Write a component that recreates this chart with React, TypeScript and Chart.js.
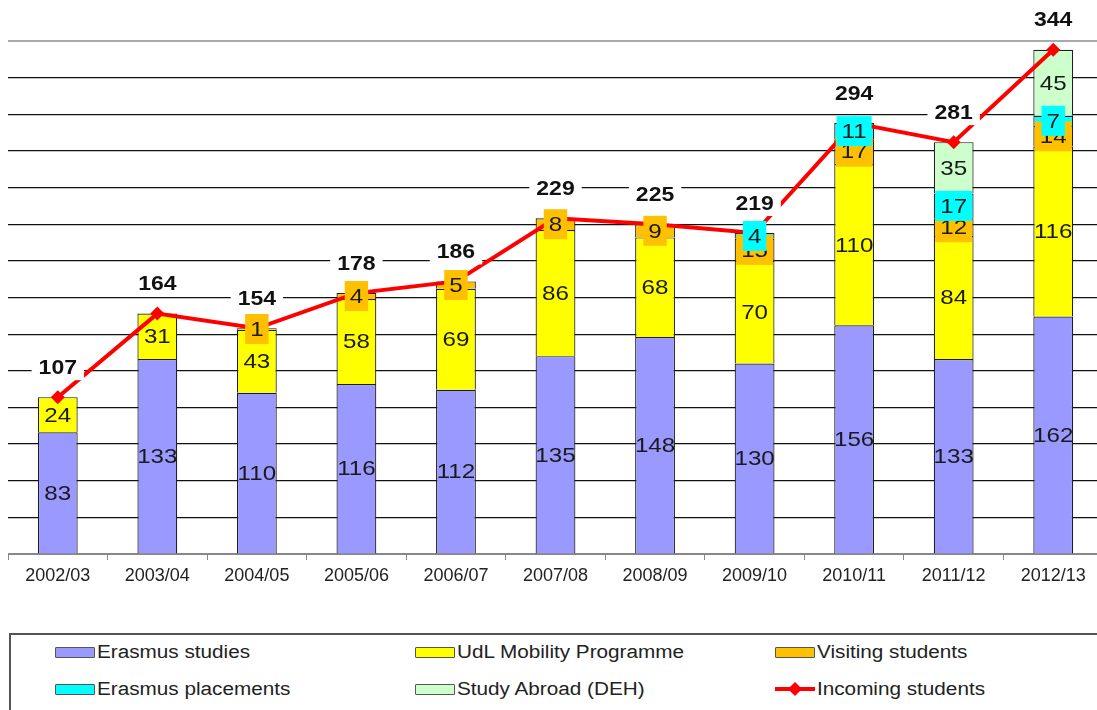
import React, { useEffect, useRef } from "react";
import { Chart, registerables } from "chart.js";

Chart.register(...registerables);

const categories = ["2002/03", "2003/04", "2004/05", "2005/06", "2006/07", "2007/08", "2008/09", "2009/10", "2010/11", "2011/12", "2012/13"];
const erasmusStudies = [83, 133, 110, 116, 112, 135, 148, 130, 156, 133, 162];
const udlMobility = [24, 31, 43, 58, 69, 86, 68, 70, 110, 84, 116];
const visitingStudents = [null, null, 1, 4, 5, 8, 9, 15, 17, 12, 14];
const erasmusPlacements = [null, null, null, null, null, null, null, 4, 11, 17, 7];
const studyAbroad = [null, null, null, null, null, null, null, null, null, 35, 45];
const incomingStudents = [107, 164, 154, 178, 186, 229, 225, 219, 294, 281, 344];
const yMax = 350;
const yStep = 25;

const FONT = '"Liberation Sans", Arial, sans-serif';
const SX = 1.15;

const barSeries = [
  { label: "Erasmus studies", data: erasmusStudies, color: "#9999FF", boxed: false },
  { label: "UdL Mobility Programme", data: udlMobility, color: "#FFFF00", boxed: false },
  { label: "Visiting students", data: visitingStudents, color: "#FFC000", boxed: true },
  { label: "Erasmus placements", data: erasmusPlacements, color: "#00FFFF", boxed: true },
  { label: "Study Abroad (DEH)", data: studyAbroad, color: "#CCFFCC", boxed: false },
];

function drawStretched(ctx: CanvasRenderingContext2D, text: string, x: number, y: number, font: string, color: string) {
  ctx.save();
  ctx.translate(x, y);
  ctx.scale(SX, 1);
  ctx.font = font;
  ctx.fillStyle = color;
  ctx.textAlign = "center";
  ctx.textBaseline = "middle";
  ctx.fillText(text, 0, 0);
  ctx.restore();
}

const labelPlugin = {
  id: "segmentLabels",
  afterDatasetsDraw(chart: any) {
    const ctx: CanvasRenderingContext2D = chart.ctx;
    const segFont = `21px ${FONT}`;
    barSeries.forEach((s, di) => {
      const meta = chart.getDatasetMeta(di);
      meta.data.forEach((el: any, i: number) => {
        const v = s.data[i];
        if (v === null || v === undefined) return;
        const cy = (el.y + el.base) / 2;
        const txt = String(v);
        if (s.boxed) {
          ctx.save();
          ctx.font = segFont;
          const w = ctx.measureText(txt).width * SX + 10;
          ctx.fillStyle = s.color;
          ctx.fillRect(el.x - w / 2, cy - 15, w, 30);
          ctx.restore();
        }
        drawStretched(ctx, txt, el.x, cy + 1, segFont, "#1a1a1a");
      });
    });
    const lineMeta = chart.getDatasetMeta(barSeries.length);
    const totFont = `bold 20px ${FONT}`;
    lineMeta.data.forEach((el: any, i: number) => {
      const txt = String(incomingStudents[i]);
      const y = el.y - 30;
      ctx.save();
      ctx.font = totFont;
      const w = ctx.measureText(txt).width * SX + 14;
      ctx.fillStyle = "#ffffff";
      ctx.fillRect(el.x - w / 2, y - 13, w, 26);
      ctx.restore();
      drawStretched(ctx, txt, el.x, y + 1, totFont, "#111111");
    });
  },
};

function ChartCanvas() {
  const ref = useRef<HTMLCanvasElement | null>(null);
  useEffect(() => {
    if (!ref.current) return;
    const datasets: any[] = barSeries.map((s) => ({
      type: "bar",
      label: s.label,
      data: s.data,
      backgroundColor: s.color,
      borderColor: "#1f1f1f",
      borderWidth: 1.2,
      stack: "bars",
      order: 1,
      barPercentage: 0.4,
      categoryPercentage: 1,
    }));
    datasets.push({
      type: "line",
      label: "Incoming students",
      data: incomingStudents,
      borderColor: "#FF0000",
      backgroundColor: "#FF0000",
      borderWidth: 4,
      pointStyle: "rectRot",
      pointRadius: 7,
      pointBorderWidth: 0,
      stack: "line",
      order: 0,
      tension: 0,
    });
    const chart = new Chart(ref.current, {
      type: "bar",
      data: { labels: categories, datasets },
      options: {
        responsive: false,
        maintainAspectRatio: false,
        animation: false,
        layout: { padding: { top: 41, left: 8, right: 2, bottom: 0 } },
        plugins: { legend: { display: false }, tooltip: { enabled: false } },
        scales: {
          x: {
            stacked: true,
            grid: { display: true, drawOnChartArea: false, drawTicks: true, tickLength: 6, color: "#888888", offset: true },
            border: { display: true, color: "#888888", width: 1 },
            ticks: { font: { family: FONT, size: 18 }, color: "#222222", padding: 5, maxRotation: 0 },
            afterFit: (s: any) => { s.height = 46; },
          },
          y: {
            stacked: true,
            min: 0,
            max: yMax,
            ticks: { stepSize: yStep, display: false },
            grid: {
              drawTicks: false,
              color: (c: any) => (c.tick && c.tick.value === yMax ? "#aaaaaa" : c.tick && c.tick.value === 0 ? "#888888" : "#111111"),
              lineWidth: (c: any) => (c.tick && c.tick.value === yMax ? 2 : 1.2),
            },
            border: { display: false },
            afterFit: (s: any) => { s.width = 0; },
          },
        },
      } as any,
      plugins: [labelPlugin],
    });
    return () => chart.destroy();
  }, []);
  return <canvas ref={ref} width={1110} height={600} style={{ position: "absolute", left: 0, top: 0 }} />;
}

const legendItems = [
  { label: "Erasmus studies", color: "#9999FF", col: 0, row: 0, line: false },
  { label: "UdL Mobility Programme", color: "#FFFF00", col: 1, row: 0, line: false },
  { label: "Visiting students", color: "#FFC000", col: 2, row: 0, line: false },
  { label: "Erasmus placements", color: "#00FFFF", col: 0, row: 1, line: false },
  { label: "Study Abroad (DEH)", color: "#CCFFCC", col: 1, row: 1, line: false },
  { label: "Incoming students", color: "#FF0000", col: 2, row: 1, line: true },
];
const legendColX = [55, 415, 775];
const legendRowY = [652, 689];

function Legend() {
  return (
    <div>
      <div style={{ position: "absolute", left: 9, top: 633, width: 1100, height: 90, borderTop: "2px solid #555", borderLeft: "2px solid #555", background: "#fff" }} />
      {legendItems.map((it) => {
        const x = legendColX[it.col];
        const y = legendRowY[it.row];
        return (
          <div key={it.label}>
            {it.line ? (
              <div style={{ position: "absolute", left: x, top: y - 2, width: 40, height: 4, background: it.color }}>
                <div style={{ position: "absolute", left: 15, top: -3, width: 10, height: 10, background: it.color, transform: "rotate(45deg)" }} />
              </div>
            ) : (
              <div style={{ position: "absolute", left: x, top: y - 5, width: 38, height: 9, background: it.color, border: "1px solid #555", borderRadius: 1 }} />
            )}
            <div style={{ position: "absolute", left: x + 42, top: y - 11, fontFamily: FONT, fontSize: 18, lineHeight: "22px", color: "#222", transform: `scaleX(${SX})`, transformOrigin: "left center", whiteSpace: "nowrap" }}>
              {it.label}
            </div>
          </div>
        );
      })}
    </div>
  );
}

export default function App() {
  return (
    <div style={{ position: "absolute", left: 0, top: 0, width: 1097, height: 710, overflow: "hidden", background: "#fff" }}>
      <ChartCanvas />
      <Legend />
    </div>
  );
}
